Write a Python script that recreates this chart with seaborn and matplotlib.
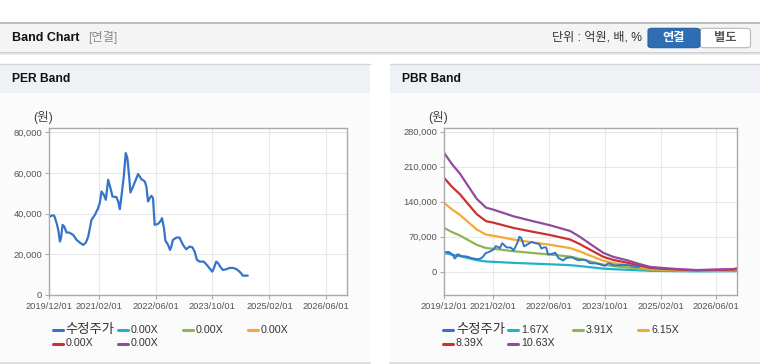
import numpy as np
import pandas as pd
import seaborn as sns
import matplotlib.pyplot as plt
import matplotlib.dates as mdates
from matplotlib.patches import Rectangle, FancyBboxPatch
from matplotlib.lines import Line2D
from matplotlib.ticker import FuncFormatter

# 수정주가 (adjusted price)
price_dates = ['2019-12-07', '2019-12-29', '2020-01-13', '2020-02-02', '2020-02-16', '2020-03-01',
               '2020-03-10', '2020-03-24', '2020-04-07', '2020-04-27', '2020-05-20', '2020-06-23',
               '2020-07-22', '2020-08-19', '2020-09-17', '2020-10-10', '2020-10-30', '2020-11-27',
               '2020-12-26', '2021-01-23', '2021-02-07', '2021-02-21', '2021-03-13', '2021-03-30',
               '2021-04-19', '2021-05-09', '2021-05-26', '2021-06-29', '2021-07-14', '2021-07-28',
               '2021-08-11', '2021-08-31', '2021-09-17', '2021-10-01', '2021-10-16', '2021-10-27',
               '2021-11-19', '2021-12-12', '2022-01-01', '2022-01-15', '2022-01-29', '2022-02-27',
               '2022-03-13', '2022-03-27', '2022-04-11', '2022-04-25', '2022-05-09', '2022-05-23',
               '2022-06-21', '2022-07-14', '2022-07-25', '2022-08-11', '2022-08-23', '2022-09-15',
               '2022-10-02', '2022-10-13', '2022-10-27', '2022-11-25', '2022-12-23', '2023-01-07',
               '2023-01-27', '2023-02-18', '2023-03-19', '2023-04-11', '2023-05-01', '2023-05-21',
               '2023-06-13', '2023-07-17', '2023-08-09', '2023-09-06', '2023-09-29', '2023-10-13',
               '2023-11-02', '2023-11-19', '2023-12-06', '2023-12-29', '2024-01-27', '2024-02-24',
               '2024-03-24', '2024-04-21', '2024-05-14', '2024-06-03', '2024-06-17', '2024-07-30']
price = [38600, 39260, 38930, 35320, 32030, 26280,
         27930, 34500, 33680, 30720, 30720, 29570,
         27100, 25790, 24640, 25790, 28750, 36960,
         39420, 42710, 45500, 50920, 49280, 46820,
         56670, 52570, 48460, 48130, 46000, 42220,
         48460, 58320, 69810, 67350, 58320, 50430,
         53390, 56670, 59470, 58320, 57000, 55850,
         53390, 46000, 47640, 48790, 47640, 34500,
         34990, 36470, 37780, 32850, 26780, 24640,
         22180, 23820, 27100, 28250, 28250, 26280,
         24150, 22510, 23820, 23490, 21360, 17250,
         16430, 16430, 15110, 13140, 11500, 13140,
         16430, 15610, 13960, 12320, 12650, 13310,
         13310, 12810, 11830, 10680, 9530, 9530]

# PBR band lines
band_dates = ['2019-12-01', '2020-02-03', '2020-04-16', '2020-06-28', '2020-09-08', '2020-11-29',
              '2021-02-01', '2021-07-27', '2022-01-17', '2022-06-11', '2022-12-03', '2023-02-28',
              '2023-06-25', '2023-09-20', '2023-12-16', '2024-04-11', '2024-08-05', '2024-11-01',
              '2025-02-25', '2025-07-21', '2025-12-13', '2026-05-08', '2026-10-30', '2026-12-01']
band_167 = [37270, 33930, 30790, 26820, 22930, 20110, 19490, 17380, 15810, 14560, 12780, 10890,
            7970, 5860, 4610, 3570, 2300, 1460, 1100, 730, 470, 630, 780, 1050]
band_391 = [87270, 79450, 72100, 62790, 53680, 47080, 45630, 40700, 37030, 34090, 29910, 25490,
            18650, 13720, 10790, 8370, 5400, 3420, 2580, 1720, 1090, 1470, 1840, 2460]
band_615 = [137270, 124970, 113410, 98770, 84440, 74050, 71770, 64020, 58240, 53630, 47050, 40100,
            29340, 21590, 16970, 13160, 8490, 5380, 4060, 2710, 1720, 2310, 2890, 3870]
band_839 = [187260, 170480, 154710, 134740, 115190, 101020, 97910, 87340, 79450, 73160, 64180, 54700,
            40020, 29450, 23160, 17950, 11580, 7340, 5540, 3690, 2350, 3150, 3940, 5290]
band_1063 = [237260, 216000, 196020, 170720, 145950, 127990, 124050, 110660, 100670, 92690, 81320, 69310,
             50710, 37310, 29340, 22750, 14670, 9300, 7020, 4680, 2980, 4000, 5000, 6700]

per_labels = ['수정주가', '0.00X', '0.00X', '0.00X', '0.00X', '0.00X']
pbr_labels = ['수정주가', '1.67X', '3.91X', '6.15X', '8.39X', '10.63X']
colors = ['#3574c6', '#1fb3c6', '#8db553', '#f3a935', '#cc3131', '#8f4c9f']

x_ticks = ['2019-12-01', '2021-02-01', '2022-06-01', '2023-10-01', '2025-02-01', '2026-06-01']

sns.set_style('white')
plt.rcParams['font.family'] = ['Liberation Sans', 'Noto Sans CJK KR', 'DejaVu Sans']

W, H = 760, 364
fig = plt.figure(figsize=(W / 100, H / 100), dpi=100)
fig.patch.set_facecolor('white')


def fx(x):
    return x / W


def fy(y):
    return 1 - y / H


def rect(x0, y0, x1, y1, fc, ec='none', lw=0):
    fig.add_artist(Rectangle((fx(x0), fy(y1)), fx(x1) - fx(x0), fy(y0) - fy(y1),
                             transform=fig.transFigure, fc=fc, ec=ec, lw=lw, zorder=0))


def hline(x0, x1, y, c, lw=1):
    fig.add_artist(Line2D([fx(x0), fx(x1)], [fy(y), fy(y)], transform=fig.transFigure,
                          color=c, lw=lw, zorder=1))


# top header bar
rect(0, 22, 760, 53, '#f4f4f4')
hline(0, 760, 22.5, '#b4b4b4', 1.2)
hline(0, 760, 53, '#c8c8c8', 1.2)
hline(0, 760, 54.2, '#e6e6e6', 1.2)
fig.text(fx(12), fy(38), 'Band Chart', fontsize=9, fontweight='bold', color='#111111', va='center')
fig.text(fx(88), fy(38), '[연결]', fontsize=8.8, color='#8a8a8a', va='center')
fig.text(fx(642), fy(38), '단위 : 억원, 배, %', fontsize=8.7, color='#333333', va='center', ha='right')
fig.add_artist(FancyBboxPatch((fx(700), fy(47.7)), fx(750.5) - fx(700), fy(28.3) - fy(47.7),
                              boxstyle='round,pad=0,rounding_size=0.006', transform=fig.transFigure,
                              fc='white', ec='#b8b8b8', lw=0.8))
fig.add_artist(FancyBboxPatch((fx(648), fy(47.7)), fx(700) - fx(648), fy(28.3) - fy(47.7),
                              boxstyle='round,pad=0,rounding_size=0.006', transform=fig.transFigure,
                              fc='#2f6db4', ec='#285f9f', lw=0.8))
fig.text(fx(674), fy(38), '연결', fontsize=8.8, fontweight='bold', color='white', va='center', ha='center')
fig.text(fx(725), fy(38), '별도', fontsize=8.8, fontweight='bold', color='#555555', va='center', ha='center')

# panels
for px0, px1, title in [(0, 370, 'PER Band'), (390, 760, 'PBR Band')]:
    rect(px0, 92.7, px1, 362, '#fbfbfb')
    rect(px0, 64, px1, 92.7, '#eef2f7')
    hline(px0, px1, 64.3, '#d4d4d4', 1.0)
    hline(px0, px1, 362.5, '#d8d8d8', 1.2)
    fig.text(fx(px0 + 12), fy(79), title, fontsize=8.7, fontweight='bold', color='#111111', va='center')

start, end = pd.Timestamp('2019-12-01'), pd.Timestamp('2026-12-01')

price_df = pd.DataFrame({'date': pd.to_datetime(price_dates), 'value': price})
band_df = pd.DataFrame({'date': pd.to_datetime(band_dates)})


def style_axes(ax, ylim, yticks):
    ax.set_facecolor('white')
    ax.set_xlim(start, end)
    ax.set_ylim(*ylim)
    ax.set_yticks(yticks)
    ax.set_xticks(pd.to_datetime(x_ticks))
    ax.xaxis.set_major_formatter(mdates.DateFormatter('%Y/%m/%d'))
    ax.yaxis.set_major_formatter(FuncFormatter(lambda v, p: f'{int(v):,}'))
    ax.grid(True, color='#e8e8e8', lw=0.8)
    for s in ax.spines.values():
        s.set_color('#aaaaaa')
        s.set_linewidth(1.0)
    ax.tick_params(axis='both', labelsize=6.7, labelcolor='#555555', color='#aaaaaa',
                   length=3, width=0.8, pad=2, direction='out', left=True, bottom=True)
    ax.set_xlabel('')
    ax.set_ylabel('')


def legend(x0, labels):
    for i, (lab, c) in enumerate(zip(labels, colors)):
        x = x0 + (i % 4) * 65
        y = 330 + (i // 4) * 13.5
        fig.add_artist(Line2D([fx(x), fx(x + 10)], [fy(y), fy(y)], transform=fig.transFigure,
                              color=c, lw=2.2))
        size = 9.6 if lab == '수정주가' else 7.7
        fig.text(fx(x + 13), fy(y), lab, fontsize=size, color='#333333', va='center')


# PER band
ax1 = fig.add_axes([fx(49.3), fy(295), fx(298), 166.7 / H])
sns.lineplot(data=price_df, x='date', y='value', color=colors[0], lw=1.6, ax=ax1)
style_axes(ax1, (0, 82000), [0, 20000, 40000, 60000, 80000])
fig.text(fx(33), fy(117), '(원)', fontsize=9, color='#444444', va='center')
legend(52.7, per_labels)

# PBR band
ax2 = fig.add_axes([fx(444.3), fy(295), fx(293), 166.7 / H])
for vals, c in zip([band_167, band_391, band_615, band_839, band_1063], colors[1:]):
    sns.lineplot(x=band_df['date'], y=vals, color=c, lw=1.6, ax=ax2)
sns.lineplot(data=price_df, x='date', y='value', color=colors[0], lw=1.4, ax=ax2)
style_axes(ax2, (-47000, 287000), [0, 70000, 140000, 210000, 280000])
fig.text(fx(428), fy(117), '(원)', fontsize=9, color='#444444', va='center')
legend(443, pbr_labels)

fig.savefig('out.png', dpi=100, facecolor=fig.get_facecolor())
